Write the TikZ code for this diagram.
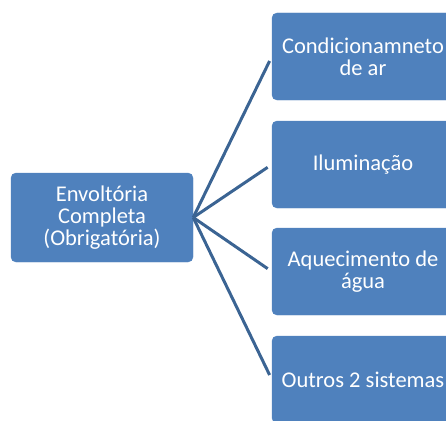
\documentclass[tikz,border=0pt]{standalone}
\usepackage{fontspec}
\setmainfont{Carlito}
\definecolor{boxblue}{HTML}{4F81BD}
\definecolor{lineblue}{HTML}{3B6493}
\begin{document}
\begin{tikzpicture}[x=1pt,y=-1pt,
  box/.style={fill=boxblue, draw=boxblue, rounded corners=5pt, text=white,
    minimum width=182pt, minimum height=87pt, align=center, inner sep=0pt,
    font=\fontsize{22.5}{22}\selectfont},
  conn/.style={draw=lineblue, line width=3pt, shorten >=5pt}]
\clip (0,0) rectangle (446,420);
\useasboundingbox (0,0) rectangle (446,420);
\node[box, minimum height=89pt] (L) at (102,217.5) {Envoltória\\Completa\\(Obrigatória)};
\node[box] (R1) at (363,56.5) {Condicionamneto\\de ar};
\node[box] (R2) at (363,164.5) {Iluminação};
\node[box] (R3) at (363,271.5) {Aquecimento de\\água};
\node[box] (R4) at (363,379.5) {Outros 2 sistemas};
\foreach \r in {R1,R2,R3,R4} \draw[conn] (L.east) -- (\r.west);
\end{tikzpicture}
\end{document}
